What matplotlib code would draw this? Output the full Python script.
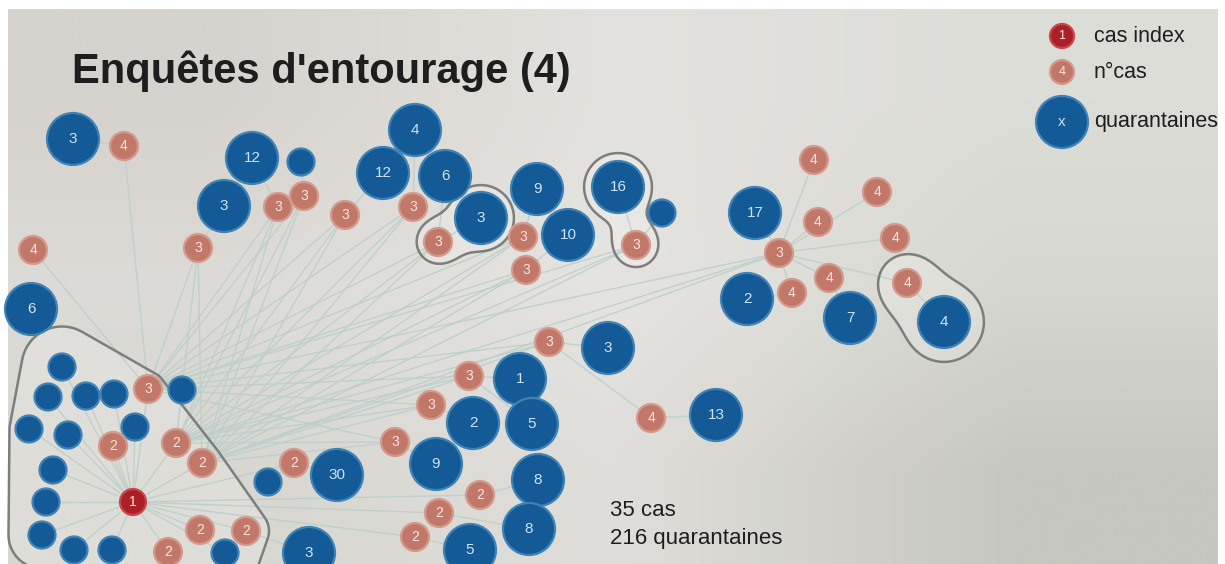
import numpy as np
import matplotlib.pyplot as plt
from matplotlib.patches import Circle, Polygon

plt.rcParams['font.family'] = ['Liberation Sans', 'DejaVu Sans']

# nodes: id, layout position (px), kind, label
node_id = ['idx',
           'q1', 'q2', 'q3', 'q4', 'q5', 'q6', 'q7', 'q8', 'q9', 'q10', 'q11', 'q12', 'q13',
           'p3a', 'p2a', 'p2b', 'p2c', 'p2d', 'p2e', 'p2f',
           'qs1', 'qs2', 'p2g', 'Q30', 'Q3c',
           'Q3a', 'p4a', 'p4b', 'Q6a',
           'Q12a', 'qs3', 'Q3b', 'p3b', 'p3c', 'p3d', 'p3e',
           'Q4a', 'Q12b', 'Q6b', 'p3f', 'p3g', 'Q3d', 'Q9a', 'p3h', 'p3i', 'Q10', 'Q16', 'qs4', 'p3j',
           'Q17', 'p3k', 'p4c', 'p4d', 'p4e', 'p4f', 'p4g', 'p4h', 'p4i', 'Q2a', 'Q7', 'Q4b',
           'p3l', 'Q3e', 'p3m', 'Q1', 'p3n', 'Q2b', 'Q5a', 'p4j', 'Q13', 'p3o', 'Q9b',
           'Q8a', 'p2h', 'p2i', 'Q8b', 'p2j', 'Q5b']
node_x = [133,
          62, 48, 86, 114, 135, 29, 68, 53, 46, 42, 74, 112, 225,
          148, 113, 176, 202, 168, 200, 246,
          182, 268, 294, 337, 309,
          73, 124, 33, 31,
          252, 301, 224, 198, 278, 304, 345,
          415, 383, 445, 413, 438, 481, 537, 523, 526, 568, 618, 662, 636,
          755, 779, 814, 877, 818, 895, 829, 907, 792, 747, 850, 944,
          549, 608, 469, 520, 431, 473, 532, 651, 716, 395, 436,
          538, 480, 439, 529, 415, 470]
node_y = [502,
          367, 397, 396, 394, 427, 429, 435, 470, 502, 535, 550, 550, 553,
          389, 446, 443, 463, 552, 530, 531,
          390, 482, 463, 475, 553,
          139, 146, 250, 309,
          158, 162, 206, 248, 207, 196, 215,
          130, 173, 176, 207, 242, 218, 189, 237, 270, 235, 187, 213, 245,
          213, 253, 160, 192, 222, 238, 278, 283, 293, 299, 318, 322,
          342, 348, 376, 379, 405, 423, 424, 418, 415, 442, 464,
          480, 495, 513, 529, 537, 550]
node_kind = ['index'] + ['quar'] * 13 + ['case'] * 7 + ['quar', 'quar', 'case', 'quar', 'quar'] \
    + ['quar', 'case', 'case', 'quar'] + ['quar', 'quar', 'quar', 'case', 'case', 'case', 'case'] \
    + ['quar', 'quar', 'quar', 'case', 'case', 'quar', 'quar', 'case', 'case', 'quar', 'quar', 'quar', 'case'] \
    + ['quar', 'case'] + ['case'] * 7 + ['quar', 'quar', 'quar'] \
    + ['case', 'quar', 'case', 'quar', 'case', 'quar', 'quar', 'case', 'quar', 'case', 'quar'] \
    + ['quar', 'case', 'case', 'quar', 'case', 'quar']
node_label = ['1'] + [''] * 13 + ['3', '2', '2', '2', '2', '2', '2'] \
    + ['', '', '2', '30', '3'] + ['3', '4', '4', '6'] \
    + ['12', '', '3', '3', '3', '3', '3'] \
    + ['4', '12', '6', '3', '3', '3', '9', '3', '3', '10', '16', '', '3'] \
    + ['17', '3', '4', '4', '4', '4', '4', '4', '4', '2', '7', '4'] \
    + ['3', '3', '3', '1', '3', '2', '5', '4', '13', '3', '9'] \
    + ['8', '2', '2', '8', '2', '5']

# transmission / contact links
index_links = ['q1', 'q2', 'q3', 'q4', 'q5', 'q6', 'q7', 'q8', 'q9', 'q10', 'q11', 'q12', 'q13',
               'p3a', 'p2a', 'p2b', 'p2c', 'p2d', 'p2e', 'p2f', 'p2g', 'p2h', 'p2i', 'p2j']
fan_sources = ['p3a', 'p2b', 'p2c']
fan_targets = ['p3b', 'p3c', 'p3d', 'p3e', 'p3f', 'p3g', 'p3h', 'p3i', 'p3j', 'p3k',
               'p3l', 'p3m', 'p3n', 'p3o']
local_links = [('p4a', 'Q3a'), ('p4a', 'p3a'), ('p4b', 'p3a'), ('qs1', 'p3a'),
               ('Q3b', 'p3b'), ('Q12a', 'p3c'), ('qs3', 'p3d'), ('Q12b', 'p3e'),
               ('Q4a', 'p3f'), ('Q6b', 'p3g'), ('Q3d', 'p3g'), ('Q9a', 'p3h'), ('Q10', 'p3i'),
               ('Q16', 'p3j'), ('qs4', 'p3j'),
               ('p3k', 'Q17'), ('p3k', 'p4c'), ('p3k', 'p4d'), ('p3k', 'p4e'), ('p3k', 'p4f'),
               ('p3k', 'p4g'), ('p3k', 'p4h'), ('p3k', 'p4i'),
               ('p4i', 'Q2a'), ('p4g', 'Q7'), ('p4h', 'Q4b'),
               ('p3l', 'Q3e'), ('p3l', 'p4j'), ('p4j', 'Q13'), ('p3m', 'Q1'), ('p3m', 'Q5a'),
               ('p3n', 'Q2b'), ('p3o', 'Q9b'),
               ('p2h', 'Q8a'), ('p2i', 'Q8b'), ('p2j', 'Q5b'),
               ('p2g', 'qs2'), ('p2g', 'Q30'), ('p2f', 'Q3c')]

# grouped households
cluster_main = ['idx', 'q1', 'q2', 'q3', 'q4', 'q5', 'q6', 'q7', 'q8', 'q9', 'q10', 'q11', 'q12', 'q13',
                'p3a', 'p2a', 'p2b', 'p2c', 'p2d', 'p2e', 'p2f']
small_groups = [(['p3g', 'Q3d'], 7), (['Q16', 'p3j'], 8), (['p4h', 'Q4b'], 14)]

title = "Enquêtes d'entourage (4)"
summary = ['35 cas', '216 quarantaines']
legend_labels = ['cas index', 'n°cas', 'quarantaines']

W, H = 1225, 564
BLUE, BLUE_E = '#135a96', '#3f82b6'
PINK, PINK_E = '#c27869', '#d39a8d'
RED, RED_E = '#ad1f27', '#c9474b'
EDGE = '#bccfcb'

pos = {n: (x, y) for n, x, y in zip(node_id, node_x, node_y)}
kind = dict(zip(node_id, node_kind))
label = dict(zip(node_id, node_label))


def radius(n):
    if kind[n] == 'quar':
        return 26 if label[n] else 13.5
    return 13 if kind[n] == 'index' else 14


fig = plt.figure(figsize=(12.25, 5.64), dpi=100)
fig.patch.set_facecolor('white')
ax = fig.add_axes([0, 0, 1, 1])

# photo-like screen background
bg = np.array([[[214, 210, 205], [228, 226, 222], [221, 221, 216]],
               [[221, 219, 215], [230, 228, 225], [214, 215, 208]],
               [[215, 214, 208], [224, 222, 218], [198, 199, 190]]]) / 255.0
ax.imshow(bg, extent=(8, 1218, 564, 9), interpolation='bilinear', aspect='auto', zorder=0)
ax.set_xlim(0, W)
ax.set_ylim(H, 0)
ax.axis('off')

# main household hull: convex hull of padded circles
hull_pad = {'q1': 27, 'q2': 10, 'q6': 6, 'p3a': 3, 'p2c': 6,
            'q10': 20, 'q11': 24, 'q12': 24, 'q13': 22, 'p2d': 24}
pts = []
for n in cluster_main:
    x, y = pos[n]
    r = radius(n) + hull_pad.get(n, 9)
    t = np.linspace(0, 2 * np.pi, 72, endpoint=False)
    pts += list(zip(x + r * np.cos(t), y + r * np.sin(t)))
pts = sorted(set(pts))


def cross(o, a, b):
    return (a[0] - o[0]) * (b[1] - o[1]) - (a[1] - o[1]) * (b[0] - o[0])


lower, upper = [], []
for p in pts:
    while len(lower) >= 2 and cross(lower[-2], lower[-1], p) <= 0:
        lower.pop()
    lower.append(p)
for p in reversed(pts):
    while len(upper) >= 2 and cross(upper[-2], upper[-1], p) <= 0:
        upper.pop()
    upper.append(p)
hull = lower[:-1] + upper[:-1]
ax.add_patch(Polygon(hull, closed=True, facecolor='white', alpha=0.18, edgecolor='none', zorder=1))
ax.add_patch(Polygon(hull, closed=True, facecolor='none', edgecolor='#7d7f7c', lw=1.8, zorder=2.5))

# small household hulls: blob contours
gx, gy = np.meshgrid(np.arange(0, W, 1.0), np.arange(0, H, 1.0))
for members, pad in small_groups:
    f = np.zeros_like(gx)
    for n in members:
        x, y = pos[n]
        f += np.exp(-((gx - x) ** 2 + (gy - y) ** 2) / (radius(n) + pad) ** 2)
    ax.contourf(gx, gy, f, levels=[0.37, 10], colors=['white'], alpha=0.2, zorder=1)
    ax.contour(gx, gy, f, levels=[0.37], colors=['#7d7f7c'], linewidths=1.8, zorder=2.5)

# links
links = [('idx', n) for n in index_links]
links += [(s, t) for t in fan_targets for s in fan_sources]
links += local_links
for a, b in links:
    (x0, y0), (x1, y1) = pos[a], pos[b]
    ax.plot([x0, x1], [y0, y1], color=EDGE, lw=1.0, alpha=0.9, zorder=2, solid_capstyle='round')

# nodes
colors = {'quar': (BLUE, BLUE_E), 'case': (PINK, PINK_E), 'index': (RED, RED_E)}
tcol = {'quar': '#cfe3f4', 'case': '#fbe6df', 'index': '#fbe6df'}
for n in node_id:
    fc, ec = colors[kind[n]]
    ax.add_patch(Circle(pos[n], radius(n), facecolor=fc, edgecolor=ec, lw=1.6, zorder=3))
    if label[n]:
        ax.text(pos[n][0], pos[n][1], label[n], ha='center', va='center', zorder=4,
                color=tcol[kind[n]], fontsize=11 if kind[n] == 'quar' else 10)

# title and summary
ax.text(72, 83, title, fontsize=30, fontweight='bold', color='#1e1e1e', va='baseline', ha='left')
ax.text(610, 516, summary[0], fontsize=16, color='#1e1e1e', va='baseline')
ax.text(610, 544, summary[1], fontsize=16, color='#1e1e1e', va='baseline')

# legend
leg_kind = ['index', 'case', 'quar']
leg_y = [36, 72, 122]
leg_r = [12, 12, 26]
leg_sym = ['1', '4', 'x']
for k, y, r, s, t in zip(leg_kind, leg_y, leg_r, leg_sym, legend_labels):
    fc, ec = colors[k]
    ax.add_patch(Circle((1062, y), r, facecolor=fc, edgecolor=ec, lw=1.6, zorder=3))
    ax.text(1062, y, s, ha='center', va='center', color=tcol[k], fontsize=9 if k != 'quar' else 11, zorder=4)
    ax.text(1094, y, t, fontsize=15.5, color='#1e1e1e', va='center', ha='left')

fig.savefig('out.png', dpi=100)
